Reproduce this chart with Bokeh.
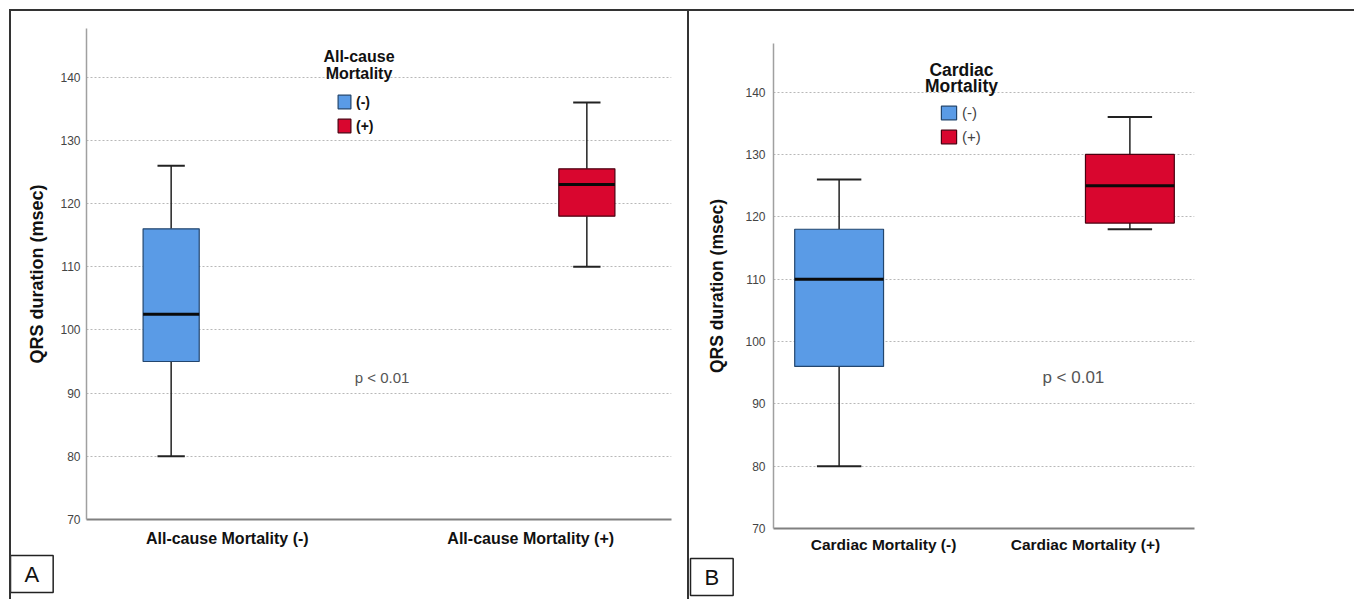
from bokeh.plotting import figure
from bokeh.layouts import row, column, Spacer
from bokeh.models import FixedTicker, Label, Legend, LegendItem, ColumnDataSource, Range1d, Title
from bokeh.embed import file_html
from bokeh.resources import INLINE

# ---------------- data ----------------
groups = ["(-)", "(+)"]
group_colors = ["#5a9be6", "#d9062f"]
group_lines = ["#23466e", "#4a0010"]

a_categories = ["All-cause Mortality (-)", "All-cause Mortality (+)"]
a_lower = [80, 110]
a_q1 = [95, 118]
a_median = [102.5, 123]
a_q3 = [116, 125.5]
a_upper = [126, 136]

b_categories = ["Cardiac Mortality (-)", "Cardiac Mortality (+)"]
b_lower = [80, 118]
b_q1 = [96, 119]
b_median = [110, 125]
b_q3 = [118, 130]
b_upper = [126, 136]

y_ticks = [70, 80, 90, 100, 110, 120, 130, 140]
grid_ticks = [80, 90, 100, 110, 120, 130, 140]

FONT = "Liberation Sans"
H = 590


def make_panel(categories, lower, q1, med, q3, upper, title_lines, letter,
               width, xr, yr, borders, offset, box_w, cap_w,
               legend_loc, title_x, title_ys, p_xy, legend_bold, glyph_w,
               x_standoff, letter_offset, letter_standoff, css, fs):
    cat_pos = [1, 2]
    signs = [-1, 1]
    xs = [c + s * offset for c, s in zip(cat_pos, signs)]
    src = ColumnDataSource(dict(
        x=xs, lower=lower, q1=q1, med=med, q3=q3, upper=upper,
        left=[x - box_w / 2 for x in xs], right=[x + box_w / 2 for x in xs],
        cl=[x - cap_w / 2 for x in xs], cr=[x + cap_w / 2 for x in xs],
        fill=group_colors, line=group_lines, group=groups,
    ))
    p = figure(width=width, height=H, x_range=Range1d(*xr), y_range=Range1d(*yr),
               output_backend="svg", toolbar_location=None, title=None,
               min_border_left=borders[0], min_border_top=borders[1],
               min_border_right=borders[2], min_border_bottom=borders[3])
    p.frame_align = False
    p.outline_line_color = None
    p.background_fill_color = "white"
    p.border_fill_color = "white"
    p.styles = css

    # grid
    p.xgrid.visible = False
    p.ygrid.ticker = FixedTicker(ticks=grid_ticks)
    p.ygrid.grid_line_color = "#b8b8b8"
    p.ygrid.grid_line_dash = "2 2"
    p.ygrid.grid_line_width = 1

    # axes
    p.yaxis.ticker = FixedTicker(ticks=y_ticks)
    p.yaxis.axis_line_color = "#a0a0a0"
    p.yaxis.axis_line_width = 1.5
    p.yaxis.major_tick_line_color = None
    p.yaxis.minor_tick_line_color = None
    p.yaxis.major_tick_out = 0
    p.yaxis.major_tick_in = 0
    p.yaxis.minor_tick_out = 0
    p.yaxis.major_label_text_font = FONT
    p.yaxis.major_label_text_font_size = "12px"
    p.yaxis.major_label_text_color = "#444444"
    p.yaxis.major_label_standoff = fs["ytick_standoff"]
    p.yaxis.axis_label = "QRS duration (msec)"
    p.yaxis.axis_label_text_font = FONT
    p.yaxis.axis_label_text_font_size = fs["ylabel"]
    p.yaxis.axis_label_text_font_style = "bold"
    p.yaxis.axis_label_text_color = "#111111"
    p.yaxis.axis_label_standoff = fs["ylabel_standoff"]

    p.xaxis.ticker = FixedTicker(ticks=cat_pos)
    p.xaxis.major_label_overrides = {cat_pos[0]: categories[0], cat_pos[1]: categories[1]}
    p.xaxis.axis_line_color = "#808080"
    p.xaxis.axis_line_width = 2
    p.xaxis.major_tick_line_color = None
    p.xaxis.minor_tick_line_color = None
    p.xaxis.major_tick_out = 0
    p.xaxis.major_tick_in = 0
    p.xaxis.minor_tick_out = 0
    p.xaxis.major_label_text_font = FONT
    p.xaxis.major_label_text_font_size = fs["xcat"]
    p.xaxis.major_label_text_font_style = "bold"
    p.xaxis.major_label_text_color = "#111111"
    p.xaxis.major_label_standoff = x_standoff

    # whiskers
    p.segment(x0="x", y0="q3", x1="x", y1="upper", source=src, line_color="#222222", line_width=1.5)
    p.segment(x0="x", y0="q1", x1="x", y1="lower", source=src, line_color="#222222", line_width=1.5)
    # boxes
    box = p.quad(left="left", right="right", bottom="q1", top="q3", source=src,
                 fill_color="fill", line_color="line", line_width=1.2)
    # medians
    p.segment(x0="left", y0="med", x1="right", y1="med", source=src, line_color="#0a0a0a", line_width=3)
    # caps
    p.segment(x0="cl", y0="upper", x1="cr", y1="upper", source=src, line_color="#222222", line_width=2)
    p.segment(x0="cl", y0="lower", x1="cr", y1="lower", source=src, line_color="#222222", line_width=2)

    # legend
    legend = Legend(items=[LegendItem(label=groups[0], renderers=[box], index=0),
                           LegendItem(label=groups[1], renderers=[box], index=1)],
                    location=legend_loc, orientation="vertical",
                    glyph_width=glyph_w, glyph_height=17, label_height=17,
                    spacing=7, padding=0, margin=0, label_standoff=4,
                    border_line_color=None, background_fill_alpha=0,
                    label_text_font=FONT, label_text_font_size=fs["legend"],
                    label_text_font_style="bold" if legend_bold else "normal",
                    label_text_color="#111111" if legend_bold else "#444444")
    p.add_layout(legend)

    for txt, ty in zip(title_lines, title_ys):
        p.add_layout(Label(x=title_x, y=ty, text=txt, text_align="center", text_baseline="middle",
                           text_font=FONT, text_font_size=fs["ltitle"], text_font_style="bold",
                           text_color="#111111"))

    p.add_layout(Label(x=p_xy[0], y=p_xy[1], text="p < 0.01", text_align="center",
                       text_baseline="middle", text_font=FONT, text_font_size=fs["pval"],
                       text_color="#555555"))

    p.add_layout(Title(text=letter, align="left", offset=letter_offset, standoff=letter_standoff,
                       text_font=FONT, text_font_size="22px", text_font_style="normal",
                       text_color="#111111",
                       border_line_color="#222222", border_line_width=1.5,
                       background_fill_color="white", padding=(14, 6)), "below")
    return p


pa = make_panel(a_categories, a_lower, a_q1, a_median, a_q3, a_upper,
                ["All-cause", "Mortality"], "A",
                width=680, xr=(0.536, 2.464), yr=(70, 147.7), borders=(75, 17, 20, 82),
                offset=0.185, box_w=0.185, cap_w=0.09,
                legend_loc=(250, 385), title_x=1.434, title_ys=[143.2, 140.6],
                p_xy=(1.51, 92.5), legend_bold=True, glyph_w=16,
                x_standoff=10, letter_offset=-76, letter_standoff=8,
                css={"border-top": "2px solid #333", "border-left": "2px solid #333",
                     "border-right": "2px solid #333", "box-sizing": "border-box"},
                fs=dict(ytick_standoff=6, ylabel="18px", ylabel_standoff=10, xcat="16px",
                        legend="14px", ltitle="16px", pval="15px"))

pb = make_panel(b_categories, b_lower, b_q1, b_median, b_q3, b_upper,
                ["Cardiac", "Mortality"], "B",
                width=665, xr=(0.455, 2.54), yr=(70, 147.8), borders=(84, 32, 160, 73),
                offset=0.22, box_w=0.44, cap_w=0.22,
                legend_loc=(166, 383), title_x=1.386, title_ys=[143.5, 141.0],
                p_xy=(1.94, 94.2), legend_bold=False, glyph_w=19,
                x_standoff=7, letter_offset=-83, letter_standoff=2,
                css={"border-top": "2px solid #333", "box-sizing": "border-box"},
                fs=dict(ytick_standoff=8, ylabel="17.5px", ylabel_standoff=15, xcat="15.5px",
                        legend="15px", ltitle="17.5px", pval="17px"))

layout = column(Spacer(height=9, width=10),
                row(Spacer(width=9, height=10), pa, pb, spacing=0),
                spacing=0)
open("out.html", "w").write(file_html(layout, INLINE))
